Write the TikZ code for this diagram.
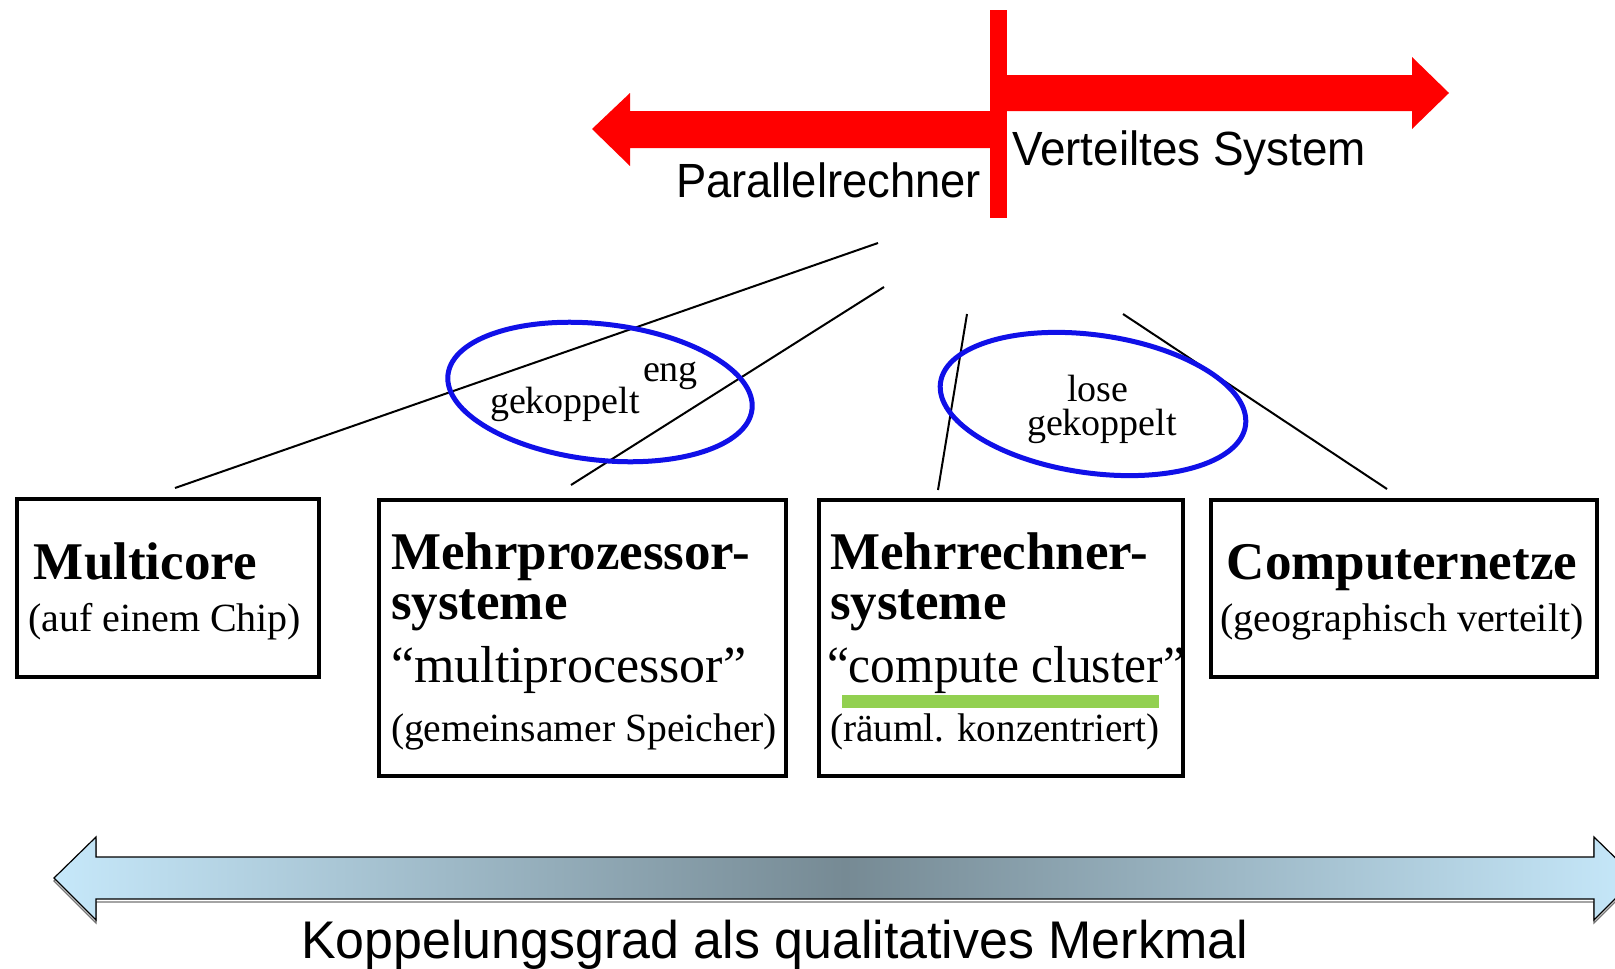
\documentclass[tikz,border=0pt]{standalone}
\usepackage{fontspec}
\usepackage{graphicx}
\setmainfont{Liberation Serif}
\newfontfamily\sansf{Liberation Sans}
\usetikzlibrary{shapes.geometric}
\definecolor{ellblue}{RGB}{16,16,232}
\definecolor{barred}{RGB}{255,0,0}
\definecolor{hlgreen}{RGB}{146,208,80}
\definecolor{arrlight}{RGB}{198,232,250}
\definecolor{arrdark}{RGB}{118,138,148}
\newcommand{\fsz}[1]{\fontsize{#1pt}{#1pt}\selectfont}
\begin{document}
\begin{tikzpicture}[x=1pt,y=-1pt,
  txt/.style={inner sep=0pt, outer sep=0pt, anchor=base west},
  ctxt/.style={inner sep=0pt, outer sep=0pt, anchor=base},
  link/.style={line width=2pt},
  box/.style={draw, line width=3.5pt, inner sep=0pt, anchor=north west},
  ring/.style={draw=ellblue, line width=5pt, ellipse, inner sep=0pt},
  head/.style={font=\fsz{53}\bfseries},
  quot/.style={font=\fsz{52}},
  sub/.style={font=\fsz{40}},
  elab/.style={font=\fsz{38}},
  sanslab/.style={font=\sansf\fsz{48}},
]
\useasboundingbox (0,0) rectangle (1615,969);
\clip (0,0) rectangle (1615,969);

% red arrows
\fill[barred] (1007,75) -- (1412,75) -- (1412,57) -- (1449,93) -- (1412,129) -- (1412,111) -- (1007,111) -- cycle;
\fill[barred] (990,111) -- (630,111) -- (630,93) -- (592,129) -- (630,166) -- (630,148) -- (990,148) -- cycle;
\fill[barred] (990,10) rectangle (1007,218);
\node[txt, sanslab] (par) at (676,197) {\scalebox{0.945}[1]{Parallelrechner}};
\node[txt, sanslab] (ver) at (1012,165) {\scalebox{0.955}[1]{Verteiltes System}};

% boxes
\node[box, minimum width=302pt, minimum height=178pt] (b1) at (15,497) {};
\node[box, minimum width=407pt, minimum height=276pt] (b2) at (377,498) {};
\node[box, minimum width=364pt, minimum height=276pt] (b3) at (817,498) {};
\node[box, minimum width=386pt, minimum height=177pt] (b4) at (1209,498) {};

% connector lines
\coordinate (l1a) at (878,243); \coordinate (l1b) at (175,488);
\coordinate (l2a) at (884,287); \coordinate (l2b) at (571,485);
\coordinate (l3a) at (967,314); \coordinate (l3b) at (938,490);
\coordinate (l4a) at (1123,314); \coordinate (l4b) at (1387,489);
\draw[link] (l1a) -- (l1b);
\draw[link] (l2a) -- (l2b);
\draw[link] (l3a) -- (l3b);
\draw[link] (l4a) -- (l4b);

% ellipses
\node[ring, minimum width=306pt, minimum height=136pt, rotate=-6.5] (e1) at (600,392) {};
\node[ring, minimum width=308pt, minimum height=138pt, rotate=-8] (e2) at (1093,404) {};
\node[txt, elab] (eng) at (643,381) {eng};
\node[txt, elab] (gek1) at (490,413) {gekoppelt};
\node[ctxt, elab] (lose) at (1098,401) {lose};
\node[ctxt, elab] (gek2) at (1102,435) {gekoppelt};

% box texts
\node[txt, head] (t1a) at (34,579) {Multicore};
\node[txt, sub] (t1b) at (28,631) {(auf einem Chip)};

\node[txt, head] (t2a) at (391,569) {Mehrprozessor-};
\node[txt, head] (t2b) at (391,619) {systeme};
\node[txt, quot] (t2c) at (391,682) {“multiprocessor”};
\node[txt, sub] (t2d) at (391,741) {\scalebox{0.99}[1]{(gemeinsamer Speicher)}};

\fill[hlgreen] (842,695) rectangle (1159,708);
\node[txt, head] (t3a) at (830,569) {Mehrrechner-};
\node[txt, head] (t3b) at (830,619) {systeme};
\node[txt, quot] (t3c) at (827,682) {\scalebox{0.95}[1]{“compute cluster”}};
\node[txt, sub] (t3d) at (830,741) {\scalebox{0.98}[1]{(räuml. konzentriert)}};

\node[ctxt, head] (t4a) at (1402,579) {Computernetze};
\node[ctxt, sub] (t4b) at (1402,631) {(geographisch verteilt)};

% bottom double arrow
\draw[line width=1.2pt, draw=black!55, yshift=-3pt] (54,878) -- (96,837) -- (96,857) -- (1594,857) -- (1594,837) -- (1636,878) -- (1594,920) -- (1594,899) -- (96,899) -- (96,920) -- cycle;
\path[shading=axis, left color=arrlight, right color=arrlight, middle color=arrdark, shading angle=90, draw=black, line width=1.2pt]
  (54,878) -- (96,837) -- (96,857) -- (1594,857) -- (1594,837) -- (1636,878) -- (1594,920) -- (1594,899) -- (96,899) -- (96,920) -- cycle;
\node[txt, font=\sansf\fsz{53}] (kop) at (301,958) {\scalebox{0.98}[1]{Koppelungsgrad als qualitatives Merkmal}};
\end{tikzpicture}
\end{document}
